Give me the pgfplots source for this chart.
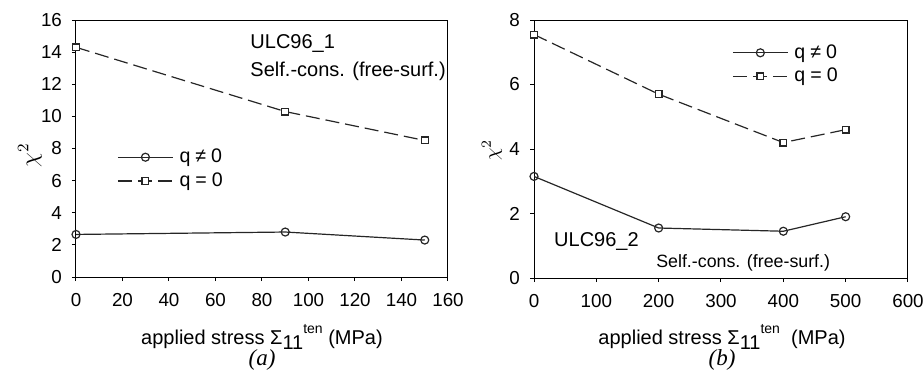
\documentclass[border=0pt]{standalone}
\usepackage{fontspec}
\setmainfont{Liberation Sans}
\newfontfamily\serif{Liberation Serif}
\usepackage{pgfplots}
\pgfplotsset{compat=1.18}
\pgfplotsset{
  common/.style={
    scale only axis,
    axis line style={line width=0.5pt},
    tick align=outside, xtick pos=left, ytick pos=left,
    major tick length=2pt,
    tick style={line width=0.5pt,black},
    /pgf/number format/assume math mode=true,
    tick label style={font=\fontsize{9.4}{11}\selectfont},
    yticklabel style={xshift=-1.5pt},
    xticklabel style={yshift=-2.5pt},
    legend style={draw=none, fill=none, font=\fontsize{9.8}{12}\selectfont, row sep=-0.5pt, inner sep=0pt,
      nodes={inner xsep=3pt}},
    legend cell align=left,
    legend image code/.code={\draw[mark repeat=2,mark phase=2,##1] plot coordinates {(0pt,0pt) (13.75pt,0pt) (27.5pt,0pt)};},
  },
  qne/.style={black!85, line width=0.6pt, mark=o, mark size=2pt, mark options={solid, fill=white}},
  qeq/.style={black!85, line width=0.6pt, dash pattern=on 7pt off 3pt, mark=square*, mark size=1.7pt, mark options={solid, fill=white}},
}
\newcommand{\qne}{q\hspace{2.5pt}≠\hspace{2.5pt}0}
\newcommand{\qeq}{q\hspace{2.5pt}=\hspace{2.5pt}0}
\begin{document}
\begin{tikzpicture}[x=1pt,y=1pt]
\path[use as bounding box] (0,0) rectangle (461.5,185.5);
\begin{axis}[common, at={(38pt,47pt)}, anchor=south west,
  width=186pt, height=128.5pt,
  xmin=0, xmax=160, ymin=0, ymax=16,
  xtick={0,20,...,160}, ytick={0,2,...,16},
  legend style={at={(0.11,0.42)}, anchor=west}]
\addplot[qne] coordinates {(0,2.65) (90,2.8) (150,2.3)};
\addlegendentry{\qne}
\addplot[qeq] coordinates {(0,14.3) (90,10.3) (150,8.5)};
\addlegendentry{\qeq}
\node[anchor=west, inner sep=0pt, font=\fontsize{10}{12}\selectfont] at (rel axis cs:0.468,0.91) {ULC96\_1};
\node[anchor=west, inner sep=0pt, font=\fontsize{10}{12}\selectfont] at (rel axis cs:0.468,0.80) {Self.-cons. (free-surf.)};
\end{axis}
\begin{axis}[common, at={(267pt,46.5pt)}, anchor=south west,
  width=187pt, height=129pt,
  xmin=0, xmax=600, ymin=0, ymax=8,
  xtick={0,100,...,600}, ytick={0,2,...,8},
  legend style={at={(0.529,0.827)}, anchor=west}]
\addplot[qne] coordinates {(0,3.15) (200,1.55) (400,1.45) (500,1.9)};
\addlegendentry{\qne}
\addplot[qeq] coordinates {(0,7.55) (200,5.7) (400,4.2) (500,4.6)};
\addlegendentry{\qeq}
\node[anchor=west, inner sep=0pt, font=\fontsize{10}{12}\selectfont] at (rel axis cs:0.053,0.14) {ULC96\_2};
\node[anchor=west, inner sep=0pt, font=\fontsize{8.9}{10}\selectfont] at (rel axis cs:0.326,0.058) {Self.-cons. (free-surf.)};
\end{axis}
\node[font=\fontsize{10}{12}\selectfont] at (131,17) {applied stress Σ\raisebox{-0.45ex}{11}\raisebox{1ex}{\fontsize{7}{8}\selectfont ten} (MPa)};
\node[font=\fontsize{11.5}{13}\selectfont\serif\itshape] at (131,5.5) {(a)};
\node[font=\fontsize{10}{12}\selectfont] at (361,17) {applied stress Σ\raisebox{-0.45ex}{11}\raisebox{1ex}{\fontsize{7}{8}\selectfont ten}~ (MPa)};
\node[font=\fontsize{11.5}{13}\selectfont\serif\itshape] at (361,5.5) {(b)};
\node[rotate=90, font=\fontsize{12}{14}\selectfont] at (15,108) {$\chi^2$};
\node[rotate=90, font=\fontsize{10}{12}\selectfont] at (246,110.5) {$\chi^2$};
\end{tikzpicture}
\end{document}
